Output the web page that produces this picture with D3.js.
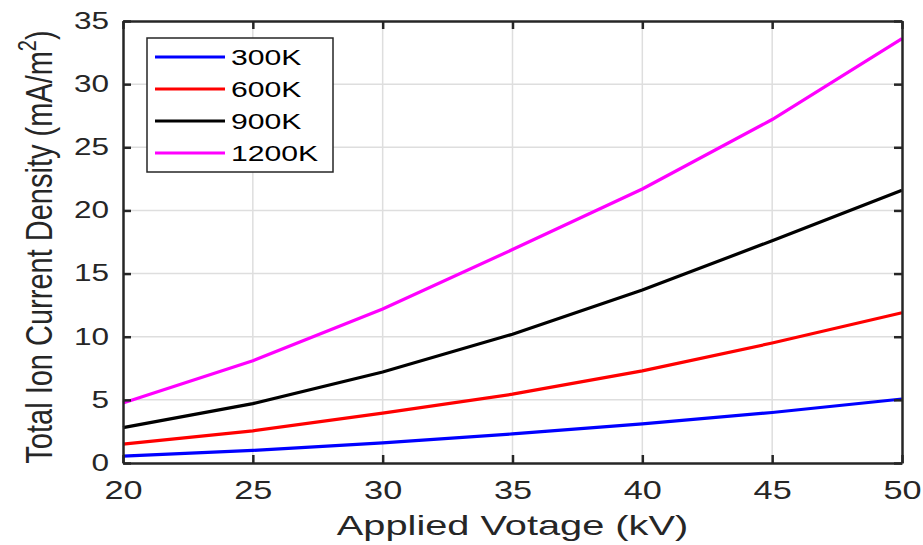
<!DOCTYPE html>
<html>
<head>
<meta charset="utf-8">
<script src="https://cdn.jsdelivr.net/npm/d3@7"></script>
<style>
  body { margin: 0; background: #fff; }
  text { font-family: "Liberation Sans", Arial, sans-serif; fill: #262626; }
</style>
</head>
<body>
<div id="chart"></div>
<script>
// data
var voltage = [20, 25, 30, 35, 40, 45, 50];
var seriesNames = ["300K", "600K", "900K", "1200K"];
var seriesColors = ["#0000ff", "#ff0000", "#000000", "#ff00ff"];
var j300 = [0.55, 1.0, 1.6, 2.3, 3.1, 4.0, 5.07];
var j600 = [1.5, 2.55, 3.95, 5.45, 7.3, 9.5, 11.9];
var j900 = [2.8, 4.7, 7.2, 10.2, 13.7, 17.6, 21.6];
var j1200 = [4.75, 8.1, 12.2, 16.9, 21.7, 27.2, 33.6];
var xTicks = [20, 25, 30, 35, 40, 45, 50];
var yTicks = [0, 5, 10, 15, 20, 25, 30, 35];

var allSeries = [j300, j600, j900, j1200];

var W = 923, H = 545;
var margin = {top: 21, right: 21, bottom: 82, left: 123};
var width = W - margin.left - margin.right,
    height = H - margin.top - margin.bottom;
var stretch = 1.37; // glyphs in the figure are stretched horizontally

var svg = d3.select("#chart").append("svg")
    .attr("width", W)
    .attr("height", H);

var g = svg.append("g")
    .attr("transform", "translate(" + margin.left + "," + margin.top + ")");

var x = d3.scaleLinear().domain([20, 50]).range([0, width]);
var y = d3.scaleLinear().domain([0, 35]).range([height, 0]);

// grid
g.append("g").selectAll("line.vg")
    .data(xTicks.slice(1, -1))
  .enter().append("line")
    .attr("x1", function(d) { return x(d); })
    .attr("x2", function(d) { return x(d); })
    .attr("y1", 0).attr("y2", height)
    .style("stroke", "#dedede").style("stroke-width", 1.5);
g.append("g").selectAll("line.hg")
    .data(yTicks.slice(1, -1))
  .enter().append("line")
    .attr("y1", function(d) { return y(d); })
    .attr("y2", function(d) { return y(d); })
    .attr("x1", 0).attr("x2", width)
    .style("stroke", "#dedede").style("stroke-width", 1.5);

// lines
var line = d3.line()
    .x(function(d, i) { return x(voltage[i]); })
    .y(function(d) { return y(d); });

g.append("g").selectAll("path")
    .data(allSeries)
  .enter().append("path")
    .attr("d", line)
    .style("fill", "none")
    .style("stroke", function(d, i) { return seriesColors[i]; })
    .style("stroke-width", 3.2);

// axes: ticks point inward, box on all sides
function styleAxis(sel) {
  sel.select(".domain").style("stroke", "#262626").style("stroke-width", 2.5);
  sel.selectAll(".tick line").style("stroke", "#262626").style("stroke-width", 2.5);
}

var xAxis = g.append("g")
    .attr("transform", "translate(0," + height + ")")
    .call(d3.axisBottom(x).tickValues(xTicks).tickSizeInner(-8).tickSizeOuter(0).tickPadding(18));
styleAxis(xAxis);
xAxis.selectAll(".tick text")
    .style("font-size", "25px")
    .attr("fill", "#262626")
    .attr("transform", "scale(" + stretch + ",1)")
    .attr("dy", "0.71em");

var yAxis = g.append("g")
    .call(d3.axisLeft(y).tickValues(yTicks).tickSizeInner(-8).tickSizeOuter(0).tickPadding(14));
styleAxis(yAxis);
yAxis.selectAll(".tick text")
    .style("font-size", "23px")
    .attr("fill", "#262626")
    .attr("transform", "translate(-14,0) scale(" + stretch + ",1)")
    .attr("x", null)
    .attr("text-anchor", "end");

var topAxis = g.append("g")
    .call(d3.axisTop(x).tickValues(xTicks).tickSizeInner(-8).tickSizeOuter(0).tickFormat(""));
styleAxis(topAxis);
var rightAxis = g.append("g")
    .attr("transform", "translate(" + width + ",0)")
    .call(d3.axisRight(y).tickValues(yTicks).tickSizeInner(-8).tickSizeOuter(0).tickFormat(""));
styleAxis(rightAxis);

// axis titles
svg.append("text")
    .attr("transform", "translate(" + (margin.left + width / 2) + ",535) scale(1.42,1)")
    .attr("text-anchor", "middle")
    .style("font-size", "28px")
    .text("Applied Votage (kV)");

var yl = svg.append("text")
    .attr("transform", "translate(52,247) rotate(-90) scale(1,1.3)")
    .attr("text-anchor", "middle")
    .style("font-size", "29px");
yl.append("tspan").text("Total Ion Current Density (mA/m");
yl.append("tspan").attr("dy", -12).style("font-size", "20px").text("2");
yl.append("tspan").attr("dy", 12).text(")");

// legend
var leg = svg.append("g").attr("transform", "translate(147,38)");
leg.append("rect")
    .attr("width", 186).attr("height", 134)
    .style("fill", "#fff").style("stroke", "#262626").style("stroke-width", 1.5);
var rows = leg.selectAll("g.row")
    .data(seriesNames)
  .enter().append("g")
    .attr("transform", function(d, i) { return "translate(0," + (19 + i * 32) + ")"; });
rows.append("line")
    .attr("x1", 8).attr("x2", 78)
    .style("stroke", function(d, i) { return seriesColors[i]; })
    .style("stroke-width", 3.2);
rows.append("text")
    .attr("transform", "translate(84,0) scale(" + stretch + ",1)")
    .attr("dy", "0.36em")
    .style("font-size", "22px")
    .style("fill", "#000")
    .text(function(d) { return d; });
</script>
</body>
</html>
